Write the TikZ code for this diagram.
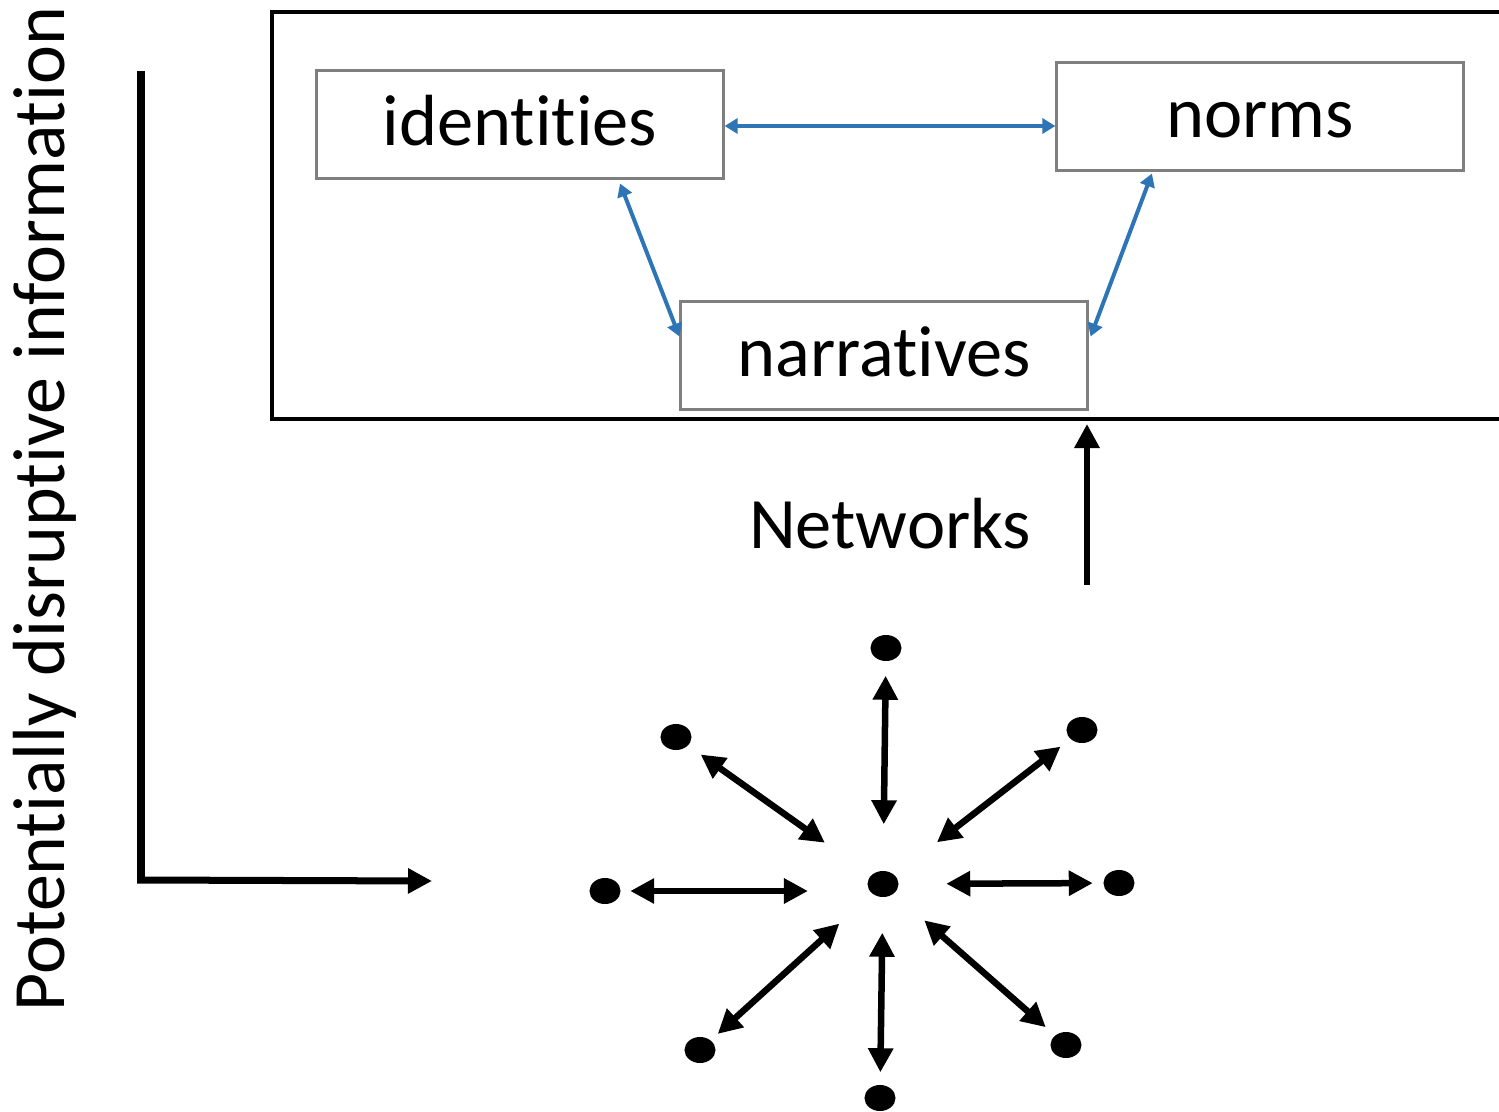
\documentclass[tikz,border=0pt]{standalone}
\usepackage{fontspec}
\setmainfont{Carlito}[RawFeature={-liga,-calt,-clig}]
\usepackage{xcolor}
\usepackage{tikz}
\usetikzlibrary{shapes.geometric,arrows.meta,positioning,calc}

\definecolor{linkblue}{HTML}{2E75B6}
\definecolor{boxgray}{HTML}{7F7F7F}

\begin{document}
\begin{tikzpicture}[
    x=0.01cm, y=-0.01cm,
    concept/.style={rectangle, draw=boxgray, line width=0.03cm, minimum width=4.06cm, minimum height=1.07cm,
        text height=0.55cm, text depth=0.13cm, inner sep=0pt, font=\fontsize{20.6}{25}\selectfont},
    link/.style={draw=linkblue, line width=0.04cm, {Triangle[length=0.13cm,width=0.15cm]}-{Triangle[length=0.13cm,width=0.15cm]}},
    agent/.style={ellipse, fill=black, inner sep=0pt, minimum width=0.31cm, minimum height=0.26cm},
    tie/.style={line width=0.065cm, {Triangle[length=0.24cm,width=0.24cm]}-{Triangle[length=0.24cm,width=0.24cm]}},
    bigarrow/.style={line width=0.07cm, -{Triangle[length=0.24cm,width=0.24cm]}}
]
\useasboundingbox (0,0) rectangle (1499,1112);

% frame of the upper level
\draw[line width=0.04cm] (1510,12) -- (272,12) -- (272,419) -- (1510,419);

\node[concept] (identities) at (520,124.5) {identities};
\node[concept] (norms) at (1260,116.5) {norms};
\node[concept] (narratives) at (884,355.5) {narratives};

\draw[link] ([yshift=-0.015cm]identities.east) -- ([yshift=-0.015cm]identities.east -| norms.west);
\draw[link] ([xshift=1cm,yshift=-0.04cm]identities.south) -- ([yshift=0.19cm]narratives.west);
\draw[link] ([xshift=-1.08cm,yshift=-0.02cm]norms.south) -- ([xshift=0.02cm,yshift=0.19cm]narratives.east);

% networks
\node[anchor=base, font=\fontsize{20.6}{25}\selectfont] (networks) at (890,548) {Networks};
\coordinate (netfoot) at (1087,585);
\draw[bigarrow, line width=0.065cm] (netfoot) -- (1087,424);

% axis
\coordinate (origin) at (141,880);
\coordinate (ytop) at (141,71);
\coordinate (xend) at (432,881);
\draw[line width=0.075cm] (ytop) -- (origin);
\draw[bigarrow] ([xshift=-0.0375cm]origin) -- (xend);
\node[rotate=90, inner sep=0pt, font=\fontsize{21}{25}\selectfont] (ylabel) at (45,509) {Potentially disruptive information};

% agents
\node[agent] (c) at (883,884) {};
\node[agent] (t) at (886,648) {};
\node[agent] (tl) at (676,737) {};
\node[agent] (tr) at (1082,730) {};
\node[agent] (l) at (605,891) {};
\node[agent] (r) at (1119,883) {};
\node[agent] (bl) at (700,1050) {};
\node[agent] (b) at (880,1098) {};
\node[agent] (br) at (1066,1045) {};

\foreach \n/\si/\so in {t/0.46/0.14, tl/0.56/0.15, tr/0.53/0.12,
    r/0.47/0.10, bl/0.44/0.09, b/0.35/0.12, br/0.40/0.12}
    \draw[tie, shorten <=\si cm, shorten >=\so cm] (c) -- (\n);
\draw[tie, shorten <=0.75cm, shorten >=0.09cm] (l -| c) -- (l);

\end{tikzpicture}
\end{document}
